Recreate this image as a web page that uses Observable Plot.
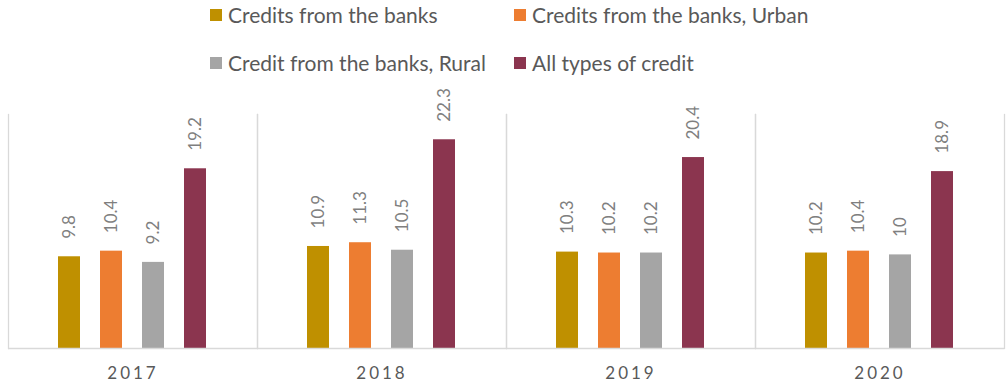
<!DOCTYPE html>
<html>
<head>
<meta charset="utf-8">
<script src="https://cdn.jsdelivr.net/npm/d3@7"></script>
<script src="https://cdn.jsdelivr.net/npm/@observablehq/plot@0.6"></script>
<style>
  body { margin: 0; background: #fff; font-family: Lato, sans-serif; }
  #legend { height: 80px; box-sizing: border-box; padding-top: 3px; padding-left: 210px;
    display: grid; grid-template-columns: 304px auto; grid-auto-rows: 24px; row-gap: 24px;
    font-size: 21px; line-height: 24px; color: #595959; }
  .item { display: flex; align-items: center; white-space: nowrap; }
  .sw { width: 12px; height: 12px; margin-right: 6px; display: inline-block; flex: none; }
  svg [aria-label="fx-axis tick label"] text { letter-spacing: 3px; }
</style>
</head>
<body>
<div id="legend"></div>
<div id="chart"></div>
<script>
const years = ["2017", "2018", "2019", "2020"];
const seriesNames = ["Credits from the banks", "Credits from the banks, Urban", "Credit from the banks, Rural", "All types of credit"];
const colors = ["#BF9000", "#ED7D31", "#A5A5A5", "#8B354F"];
const banks = [9.8, 10.9, 10.3, 10.2];
const urban = [10.4, 11.3, 10.2, 10.4];
const rural = [9.2, 10.5, 10.2, 10];
const allTypes = [19.2, 22.3, 20.4, 18.9];

const seriesValues = [banks, urban, rural, allTypes];
const data = [];
years.forEach((y, i) => seriesNames.forEach((s, j) => data.push({year: y, series: s, value: seriesValues[j][i]})));

const legend = document.getElementById("legend");
seriesNames.forEach((s, j) => {
  const it = document.createElement("div");
  it.className = "item";
  it.innerHTML = `<span class="sw" style="background:${colors[j]}"></span><span>${s}</span>`;
  legend.appendChild(it);
});

const chart = Plot.plot({
  width: 1006,
  height: 310,
  marginLeft: 7,
  marginRight: 2,
  marginTop: 34,
  marginBottom: 42,
  style: {fontFamily: "Lato, sans-serif", background: "#fff"},
  fx: {domain: years, padding: 0, label: null},
  x: {domain: seriesNames, paddingInner: 0.47, paddingOuter: 1.17, axis: null},
  y: {domain: [0, 25], axis: null},
  color: {domain: seriesNames, range: colors},
  marks: [
    Plot.frame({anchor: "left", stroke: "#d9d9d9", strokeWidth: 1.3}),
    Plot.frame({anchor: "right", stroke: "#d9d9d9", strokeWidth: 1.3}),
    Plot.barY(data, {fx: "year", x: "series", y: "value", fill: "series"}),
    Plot.ruleY([0], {stroke: "#d9d9d9", strokeWidth: 1.3}),
    Plot.text(data, {fx: "year", x: "series", y: "value", text: d => String(d.value),
      rotate: -90, textAnchor: "start", dy: -18, fontSize: 17, fill: "#7f7f7f"}),
    Plot.axisFx({anchor: "bottom", tickSize: 0, tickPadding: 18, fontSize: 17, color: "#595959", label: null})
  ]
});
document.getElementById("chart").appendChild(chart);
</script>
</body>
</html>
